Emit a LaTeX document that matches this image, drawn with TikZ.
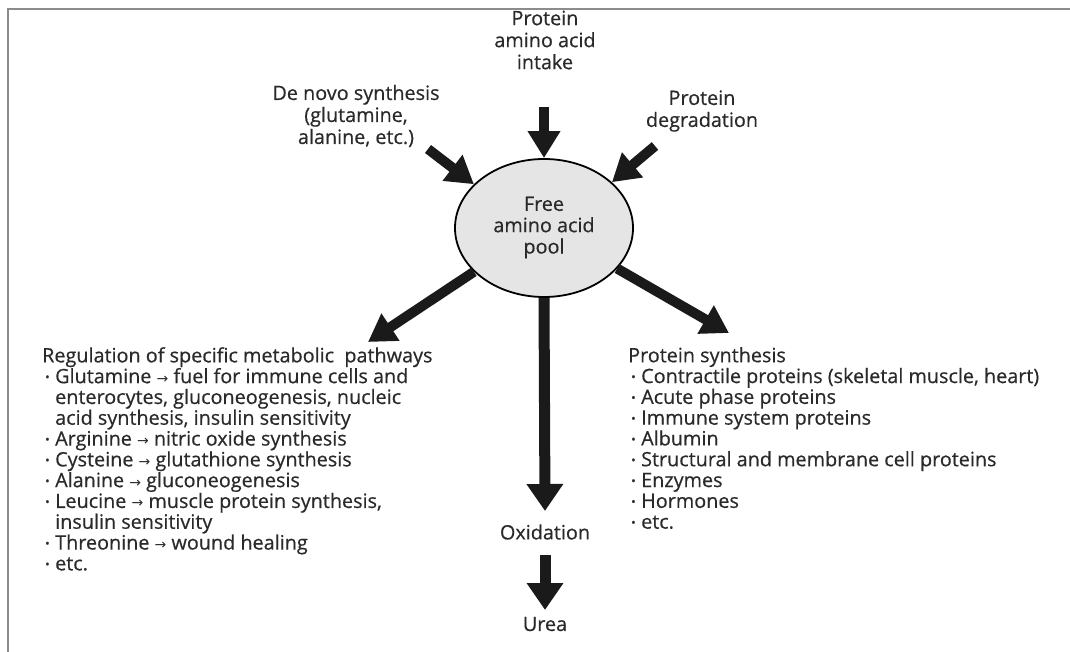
\documentclass[tikz,border=0pt]{standalone}
\usepackage{fontspec}
\setmainfont{Open Sans}[FakeBold=0.5]
\newfontfamily\arrowfont{DejaVu Sans}
\usetikzlibrary{arrows.meta,shapes.geometric}
\definecolor{txt}{HTML}{2A2A2A}
\definecolor{arr}{HTML}{1A1A1A}
\newcommand\bl{\hspace*{3pt}\makebox[10pt][l]{\fontsize{12}{12}\selectfont\raisebox{0.3ex}{•}}}
\newcommand\ind{\hspace*{13pt}}
\newcommand\ra{{\arrowfont\fontsize{14}{14}\selectfont →}}
\tikzset{
  lbl/.style={text=txt, font=\fontsize{19.8}{22}\selectfont, align=center, inner sep=0pt},
  lst/.style={text=txt, font=\fontsize{19.8}{20.8}\selectfont, align=left, inner sep=0pt, anchor=north west},
  fat/.style={line width=10pt, arr, -{Triangle[length=27pt,width=31pt]}},
  fatb/.style={line width=11pt, arr, -{Triangle[length=27pt,width=35pt]}},
}
\begin{document}
\begin{tikzpicture}[x=1pt,y=-1pt]
\useasboundingbox (0,0) rectangle (1070,652);
\draw[black!45, line width=2.5pt] (1070,9) -- (8,9) -- (8,652);

\node[ellipse, draw=black, line width=1.8pt, fill=black!10, minimum width=178pt, minimum height=138pt, inner sep=0pt, lbl, font=\fontsize{19.8}{21}\selectfont] (pool) at (544,228) {\raisebox{-2pt}{\begin{tabular}{@{}c@{}}Free\\amino acid\\pool\end{tabular}}};

\node[lbl] (intake) at (545,40) {Protein\\amino acid\\intake};
\node[lbl] (denovo) at (356,116) {De novo synthesis\\(glutamine,\\alanine, etc.)};
\node[lbl] (degr) at (702,111) {Protein\\degradation};

\node[lbl] (oxid) at (545,532) {Oxidation};
\node[lbl] (urea) at (545,624) {Urea};

\node[lst] (reg) at (42,347) {Regulation of specific metabolic\ \ pathways\\
\bl Glutamine \ra\ fuel for immune cells and\\
\ind enterocytes, gluconeogenesis, nucleic\\
\ind acid synthesis, insulin sensitivity\\
\bl Arginine \ra\ nitric oxide synthesis\\
\bl Cysteine \ra\ glutathione synthesis\\
\bl Alanine \ra\ gluconeogenesis\\
\bl Leucine \ra\ muscle protein synthesis,\\
\ind insulin sensitivity\\
\bl Threonine \ra\ wound healing\\
\bl etc.};

\node[lst] (psyn) at (628,347) {Protein synthesis\\
\bl Contractile proteins (skeletal muscle, heart)\\
\bl Acute phase proteins\\
\bl Immune system proteins\\
\bl Albumin\\
\bl Structural and membrane cell proteins\\
\bl Enzymes\\
\bl Hormones\\
\bl etc.};

\coordinate (tIntake) at (544,107);
\coordinate (tDenovo) at (428,149);
\coordinate (tDegr) at (655,146);
\coordinate (hReg) at (368,342);
\coordinate (hPsyn) at (729,333);
\coordinate (hOxid) at (545,511);
\coordinate (tUrea) at (545,555);
\coordinate (hUrea) at (545,610);

\draw[fat] (tIntake) -- (pool.north);
\draw[fat] (tDenovo) -- (pool.148);
\draw[fat] (tDegr) -- (pool.34);
\draw[fat] (pool.212) -- (hReg);
\draw[fat] (pool.-29) -- (hPsyn);
\draw[fatb] (pool.south) -- (hOxid);
\draw[fatb] (tUrea) -- (hUrea);
\end{tikzpicture}
\end{document}
